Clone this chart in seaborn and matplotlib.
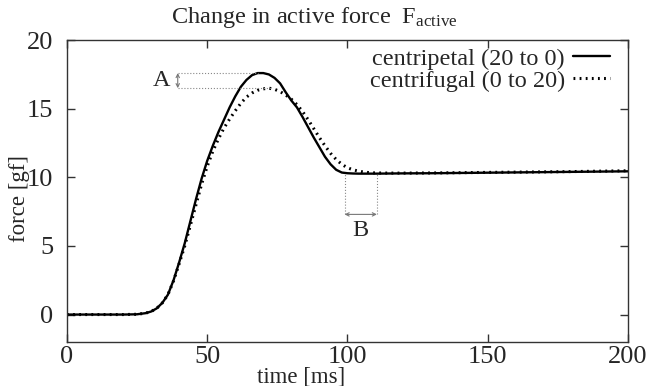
import matplotlib
matplotlib.use('Agg')
import matplotlib.pyplot as plt
import seaborn as sns
import numpy as np

# 数据
time_ms = [0, 10, 20, 25, 28,
           30, 32, 34, 36, 38, 40, 42, 44, 46, 48,
           50, 52, 54, 56, 58, 60, 62, 64, 66, 68,
           70, 72, 74, 76, 78, 80, 82, 84, 86, 88,
           90, 92, 94, 96, 98, 100, 102, 104, 106, 108,
           110, 115, 120, 130, 140, 150, 160, 170, 180, 190, 200]
centripetal = [0, 0, 0, 0.02, 0.1,
               0.22, 0.45, 0.85, 1.45, 2.5, 3.8, 5.2, 6.8, 8.4, 9.9,
               11.2, 12.3, 13.3, 14.2, 15.1, 15.9, 16.6, 17.1, 17.45, 17.6,
               17.6, 17.5, 17.25, 16.85, 16.2, 15.6, 15.1, 14.4, 13.65, 12.9,
               12.2, 11.5, 10.95, 10.55, 10.35, 10.3, 10.28, 10.27, 10.27, 10.27,
               10.27, 10.28, 10.29, 10.3, 10.32, 10.34, 10.36, 10.38, 10.4, 10.42, 10.44]
centrifugal = [0, 0, 0, 0.02, 0.1,
               0.22, 0.45, 0.85, 1.45, 2.45, 3.7, 5.0, 6.5, 8.0, 9.5,
               10.8, 11.9, 12.8, 13.6, 14.25, 14.85, 15.4, 15.85, 16.15, 16.35,
               16.45, 16.5, 16.42, 16.25, 16.0, 15.7, 15.3, 14.8, 14.2, 13.55,
               12.9, 12.3, 11.75, 11.3, 10.95, 10.7, 10.55, 10.45, 10.38, 10.34,
               10.32, 10.31, 10.31, 10.32, 10.34, 10.36, 10.38, 10.4, 10.42, 10.45, 10.48]
labels = ['centripetal (20 to 0)', 'centrifugal (0 to 20)']
settle_times = [99, 110.5]  # B 的两条竖线

sns.set_style('ticks')
plt.rcParams['font.family'] = ['Liberation Serif', 'DejaVu Serif']
plt.rcParams['mathtext.fontset'] = 'stix'

fig = plt.figure(figsize=(6.5, 3.86), dpi=100)
ax = fig.add_axes([0.103, 0.114, 0.863, 0.782])

sns.lineplot(x=time_ms, y=centripetal, ax=ax, color='black', lw=1.7, label=labels[0])
sns.lineplot(x=time_ms, y=centrifugal, ax=ax, color='black', lw=2.2,
             linestyle=(0, (0.6, 1.4)), label=labels[1])

ax.set_xlim(0, 200)
ax.set_ylim(-2, 20)
ax.set_xticks([0, 50, 100, 150, 200])
ax.set_yticks([0, 5, 10, 15, 20])
ax.tick_params(direction='in', length=6, width=1, labelsize=19,
               top=True, right=True, color='#333333')
ax.tick_params(axis='x', pad=3)
ax.tick_params(axis='y', pad=10)
for s in ax.spines.values():
    s.set_color('#333333')
    s.set_linewidth(1)

ax.set_xlabel('time [ms]', fontsize=16.5)
ax.xaxis.set_label_coords(0.418, -0.08)
ax.set_ylabel('force [gf]', fontsize=16.5)
ax.yaxis.set_label_coords(-0.065, 0.477)

fig.text(0.483, 0.955, r'Change in active force  $\mathregular{F_{active}}$',
         ha='center', va='center', fontsize=17.5)

# 图例
leg = ax.legend(loc='upper right', frameon=False, markerfirst=False, fontsize=17.5,
                handlelength=1.5, handletextpad=0.35, borderaxespad=0, borderpad=0,
                labelspacing=0.0, bbox_to_anchor=(0.968, 0.975))
for t in leg.get_texts():
    t.set_ha('right')

# A：两个峰值的差
i1 = int(np.argmax(centripetal))
i2 = int(np.argmax(centrifugal))
p1, p2 = centripetal[i1], centrifugal[i2]
ax.plot([39.5, time_ms[i1]], [p1, p1], ls=':', color='#888888', lw=0.8)
ax.plot([39.5, time_ms[i2] + 1], [p2, p2], ls=':', color='#888888', lw=0.8)
ax.annotate('', xy=(39.5, p1), xytext=(39.5, p2),
            arrowprops=dict(arrowstyle='<->', color='#777777', lw=0.8,
                            shrinkA=0, shrinkB=0, mutation_scale=6))
ax.text(37, (p1 + p2) / 2, 'A', ha='right', va='center', fontsize=17.5)

# B：到达平稳的时间差
yb = 7.3
for tx in settle_times:
    ax.plot([tx, tx], [yb, 10.3], ls=':', color='#888888', lw=0.8)
ax.annotate('', xy=(settle_times[0], yb), xytext=(settle_times[1], yb),
            arrowprops=dict(arrowstyle='<->', color='#777777', lw=0.8,
                            shrinkA=0, shrinkB=0, mutation_scale=6))
ax.text(sum(settle_times) / 2, yb - 0.4, 'B', ha='center', va='top', fontsize=17.5)

plt.savefig('out.png', dpi=100)
